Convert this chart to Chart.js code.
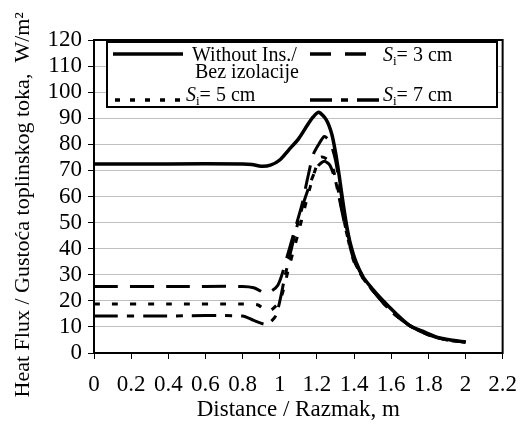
<!DOCTYPE html>
<html>
<head>
<meta charset="utf-8">
<script src="https://cdn.jsdelivr.net/npm/chart.js@4.4.1/dist/chart.umd.min.js"></script>
<style>
  html, body { margin: 0; padding: 0; background: #fff; }
  #wrap { width: 529px; height: 430px; }
</style>
</head>
<body>
<div id="wrap"><canvas id="chart"></canvas></div>
<script>
// values
const noInsX = [0, 0.4, 0.8, 0.85, 0.9, 0.95, 1.0, 1.05, 1.1, 1.15, 1.18, 1.21, 1.25, 1.28, 1.3, 1.32, 1.34, 1.36, 1.38, 1.41, 1.45, 1.5, 1.55, 1.62, 1.7, 1.78, 1.85, 1.92, 2.0];
const noInsY = [72.5, 72.5, 72.5, 72.3, 71.6, 72, 74, 78, 82, 87.5, 90.5, 92.3, 89.5, 84, 77, 68, 58, 49, 42, 35, 29, 24.5, 20.5, 15.5, 10.5, 8, 6, 5, 4.2];

const s3X = [0, 0.4, 0.8, 0.86, 0.93, 0.99, 1.04, 1.08, 1.12, 1.15, 1.18, 1.21, 1.24, 1.27, 1.3, 1.33, 1.36, 1.4, 1.45, 1.5, 1.6, 1.7, 1.8, 1.9, 2.0];
const s3Y = [25.5, 25.5, 25.5, 25, 23, 26, 37, 47, 57, 67, 76, 80, 83, 81, 74, 61, 48, 36, 29, 24, 16, 10.5, 7, 5, 4.2];

const s5X = [0, 0.4, 0.8, 0.88, 0.94, 1.0, 1.05, 1.1, 1.15, 1.19, 1.22, 1.25, 1.28, 1.31, 1.34, 1.37, 1.4, 1.45, 1.5, 1.6, 1.7, 1.8, 1.9, 2.0];
const s5Y = [18.8, 18.8, 18.8, 18.5, 16, 20, 33, 46, 60, 70, 75, 74.5, 72, 64, 53, 43, 35, 28.5, 24, 16, 10.5, 7, 5, 4.2];

const s7X = [0, 0.4, 0.8, 0.86, 0.93, 0.98, 1.03, 1.08, 1.13, 1.18, 1.21, 1.24, 1.27, 1.3, 1.33, 1.36, 1.4, 1.45, 1.5, 1.6, 1.7, 1.8, 1.9, 2.0];
const s7Y = [14.2, 14.2, 14.2, 12.5, 11, 14.5, 30, 45, 58, 68, 72, 73.5, 72, 66, 56, 46, 35.5, 28.5, 24, 16, 10.5, 7, 5, 4.2];

const seriesLabels = ['Without Ins./ Bez izolacije', 'Si= 3 cm', 'Si= 5 cm', 'Si= 7 cm'];

const FONT = "'Liberation Serif', 'DejaVu Serif', serif";

function pts(xs, ys) {
    return xs.map((x, i) => ({ x: x, y: ys[i] }));
}

// frame round the plot area
const frame = {
    id: 'frame',
    afterDatasetsDraw(chart) {
        const a = chart.chartArea, ctx = chart.ctx;
        ctx.save();
        ctx.strokeStyle = '#000';
        ctx.lineWidth = 2;
        ctx.strokeRect(a.left, a.top, a.right - a.left, a.bottom - a.top);
        ctx.restore();
    }
};

// boxed legend inside the plot, two columns
const boxLegend = {
    id: 'boxLegend',
    afterDraw(chart) {
        const ctx = chart.ctx;
        ctx.save();
        ctx.fillStyle = '#fff';
        ctx.fillRect(107, 42, 390, 65);
        ctx.strokeStyle = '#000';
        ctx.lineWidth = 2;
        ctx.strokeRect(107, 42, 390, 65);

        function sample(x1, x2, y, dash) {
            ctx.beginPath();
            ctx.setLineDash(dash);
            ctx.lineWidth = 3.5;
            ctx.moveTo(x1, y);
            ctx.lineTo(x2, y);
            ctx.stroke();
            ctx.setLineDash([]);
        }
        function siText(x, y, rest) {
            ctx.font = 'italic 20px ' + FONT;
            ctx.fillText('S', x, y);
            let w = ctx.measureText('S').width;
            ctx.font = '13px ' + FONT;
            ctx.fillText('i', x + w, y + 4);
            w += ctx.measureText('i').width;
            ctx.font = '20px ' + FONT;
            ctx.fillText(rest, x + w, y);
        }

        ctx.fillStyle = '#000';
        ctx.textBaseline = 'alphabetic';
        ctx.textAlign = 'left';

        sample(113, 183, 54, []);
        ctx.font = '20px ' + FONT;
        ctx.fillText('Without Ins./', 192, 61);
        ctx.fillText('Bez izolacije', 195, 78);

        sample(310, 374, 54, [21, 14]);
        siText(383, 61, '= 3 cm');

        sample(115, 183, 100, [5, 10]);
        siText(186, 107 - 6, '= 5 cm');

        sample(310, 380, 100, [22, 9, 7, 9]);
        siText(383, 107 - 6, '= 7 cm');
        ctx.restore();
    }
};

const ctx = document.getElementById('chart').getContext('2d');
new Chart(ctx, {
    type: 'scatter',
    data: {
        datasets: [
            { label: seriesLabels[0], data: pts(noInsX, noInsY), borderColor: '#000', borderWidth: 3.5, borderDash: [] },
            { label: seriesLabels[1], data: pts(s3X, s3Y), borderColor: '#000', borderWidth: 3, borderDash: [24, 12] },
            { label: seriesLabels[2], data: pts(s5X, s5Y), borderColor: '#000', borderWidth: 3, borderDash: [6, 12] },
            { label: seriesLabels[3], data: pts(s7X, s7Y), borderColor: '#000', borderWidth: 3, borderDash: [24, 9, 7, 9] }
        ].map(d => Object.assign(d, { showLine: true, pointRadius: 0, tension: 0.25, fill: false }))
    },
    options: {
        responsive: true,
        maintainAspectRatio: false,
        animation: false,
        layout: { padding: { top: 40, right: 19, left: 0, bottom: 0 } },
        plugins: {
            legend: { display: false },
            tooltip: { enabled: false }
        },
        scales: {
            x: {
                type: 'linear',
                min: 0,
                max: 2.2,
                afterFit: s => { s.height = 77; },
                ticks: {
                    stepSize: 0.2,
                    autoSkip: false,
                    color: '#000',
                    padding: 12,
                    maxRotation: 0,
                    font: { family: FONT, size: 23 },
                    callback: v => String(+v.toFixed(1))
                },
                grid: { display: true, drawOnChartArea: false, tickLength: 6, tickColor: '#000', tickWidth: 1 },
                border: { display: true, color: '#000', width: 2 },
                title: {
                    display: true,
                    text: 'Distance / Razmak, m',
                    color: '#000',
                    font: { family: FONT, size: 23 },
                    padding: { top: 0, bottom: 6 }
                }
            },
            y: {
                min: 0,
                max: 120,
                afterFit: s => { s.width = 94; },
                ticks: {
                    stepSize: 10,
                    autoSkip: false,
                    color: '#000',
                    padding: 6,
                    font: { family: FONT, size: 23 }
                },
                grid: { color: '#c0c0c0', lineWidth: 1, tickLength: 6, tickColor: '#000' },
                border: { display: true, color: '#000', width: 2 },
                title: {
                    display: true,
                    // trailing no-break spaces nudge the centred title down a little
                    text: 'Heat Flux / Gustoća toplinskog toka,  W/m²\u00a0\u00a0\u00a0',
                    color: '#000',
                    font: { family: FONT, size: 22 },
                    padding: { top: 10, bottom: 0 }
                }
            }
        }
    },
    plugins: [frame, boxLegend]
});
</script>
</body>
</html>
